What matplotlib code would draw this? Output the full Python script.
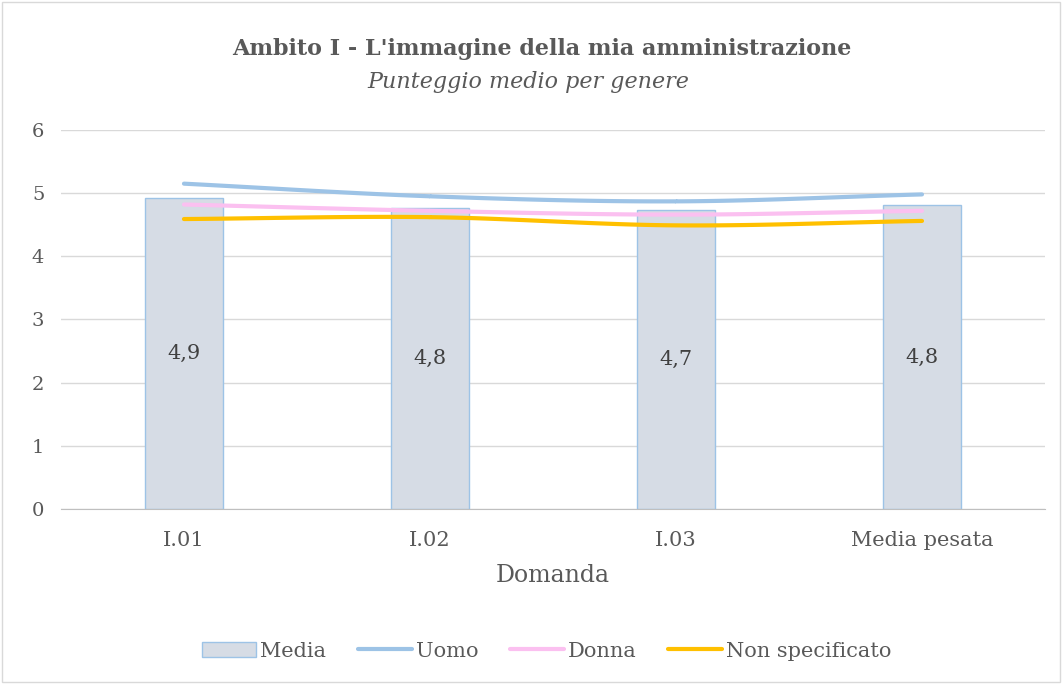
import numpy as np
import matplotlib
matplotlib.use("Agg")
import matplotlib.pyplot as plt
from matplotlib.patches import Rectangle

# data
categories = ["I.01", "I.02", "I.03", "Media pesata"]
media = [4.93, 4.77, 4.73, 4.81]
media_labels = ["4,9", "4,8", "4,7", "4,8"]
uomo = [5.15, 4.95, 4.87, 4.98]
donna = [4.82, 4.72, 4.66, 4.72]
non_spec = [4.59, 4.62, 4.49, 4.56]

plt.rcParams['font.family'] = ['DejaVu Serif']
grey = "#595959"


def smooth(xs, ys, n=40):
    # Catmull-Rom spline through the points, similar to Excel's smoothed line
    xs = np.asarray(xs, float)
    ys = np.asarray(ys, float)
    px = np.concatenate([[2 * xs[0] - xs[1]], xs, [2 * xs[-1] - xs[-2]]])
    py = np.concatenate([[2 * ys[0] - ys[1]], ys, [2 * ys[-1] - ys[-2]]])
    outx, outy = [], []
    for i in range(1, len(px) - 2):
        t = np.linspace(0, 1, n)
        for arr, out in ((px, outx), (py, outy)):
            p0, p1, p2, p3 = arr[i - 1], arr[i], arr[i + 1], arr[i + 2]
            out.extend(0.5 * ((2 * p1) + (-p0 + p2) * t
                              + (2 * p0 - 5 * p1 + 4 * p2 - p3) * t ** 2
                              + (-p0 + 3 * p1 - 3 * p2 + p3) * t ** 3))
    return np.array(outx), np.array(outy)


fig = plt.figure(figsize=(10.62, 6.84), dpi=100)
fig.patches.append(Rectangle((0.002, 0.003), 0.996, 0.994, transform=fig.transFigure,
                             fill=False, edgecolor="#D9D9D9", linewidth=1))
ax = fig.add_axes([0.0574, 0.2558, 0.9266, 0.5542])

x = np.arange(len(categories))
ax.bar(x, media, width=0.317, color="#D6DCE5", edgecolor="#9DC3E6",
       linewidth=1, label="Media", zorder=2)
for xi, v, lab in zip(x, media, media_labels):
    ax.text(xi, v / 2, lab, ha="center", va="center", fontsize=15, color="#404040", zorder=5)

for vals, col, name in ((uomo, "#9DC3E6", "Uomo"),
                        (donna, "#FBC0F0", "Donna"),
                        (non_spec, "#FFC000", "Non specificato")):
    sx, sy = smooth(x, vals)
    ax.plot(sx, sy, color=col, linewidth=3, solid_capstyle="round", label=name, zorder=3)

ax.set_xlim(-0.5, 3.5)
ax.set_ylim(0, 6)
ax.set_yticks(range(7))
ax.set_xticks(x)
ax.set_xticklabels(categories)
ax.tick_params(length=0, labelsize=14, colors=grey)
ax.tick_params(axis="x", labelsize=15, pad=16)
ax.tick_params(axis="y", pad=12)
ax.grid(axis="y", color="#D9D9D9", linewidth=1)
ax.set_axisbelow(True)
for s in ("top", "right", "left"):
    ax.spines[s].set_visible(False)
ax.spines["bottom"].set_color("#BFBFBF")
ax.set_xlabel("Domanda", fontsize=17, color=grey, labelpad=10)

fig.text(0.51, 0.928, "Ambito I - L'immagine della mia amministrazione", ha="center",
         va="center", fontsize=16, fontweight="bold", color=grey)
fig.text(0.497, 0.88, "Punteggio medio per genere", ha="center", va="center",
         fontsize=16, style="italic", color=grey)

handles, labels = ax.get_legend_handles_labels()
order = [labels.index(n) for n in ("Media", "Uomo", "Donna", "Non specificato")]
leg = fig.legend([handles[i] for i in order], [labels[i] for i in order],
                 loc="center", bbox_to_anchor=(0.515, 0.048), ncol=4, frameon=False,
                 fontsize=15, handlelength=2.6, handletextpad=0.2, columnspacing=1.5)
for t in leg.get_texts():
    t.set_color(grey)

fig.savefig("out.png", dpi=100)
